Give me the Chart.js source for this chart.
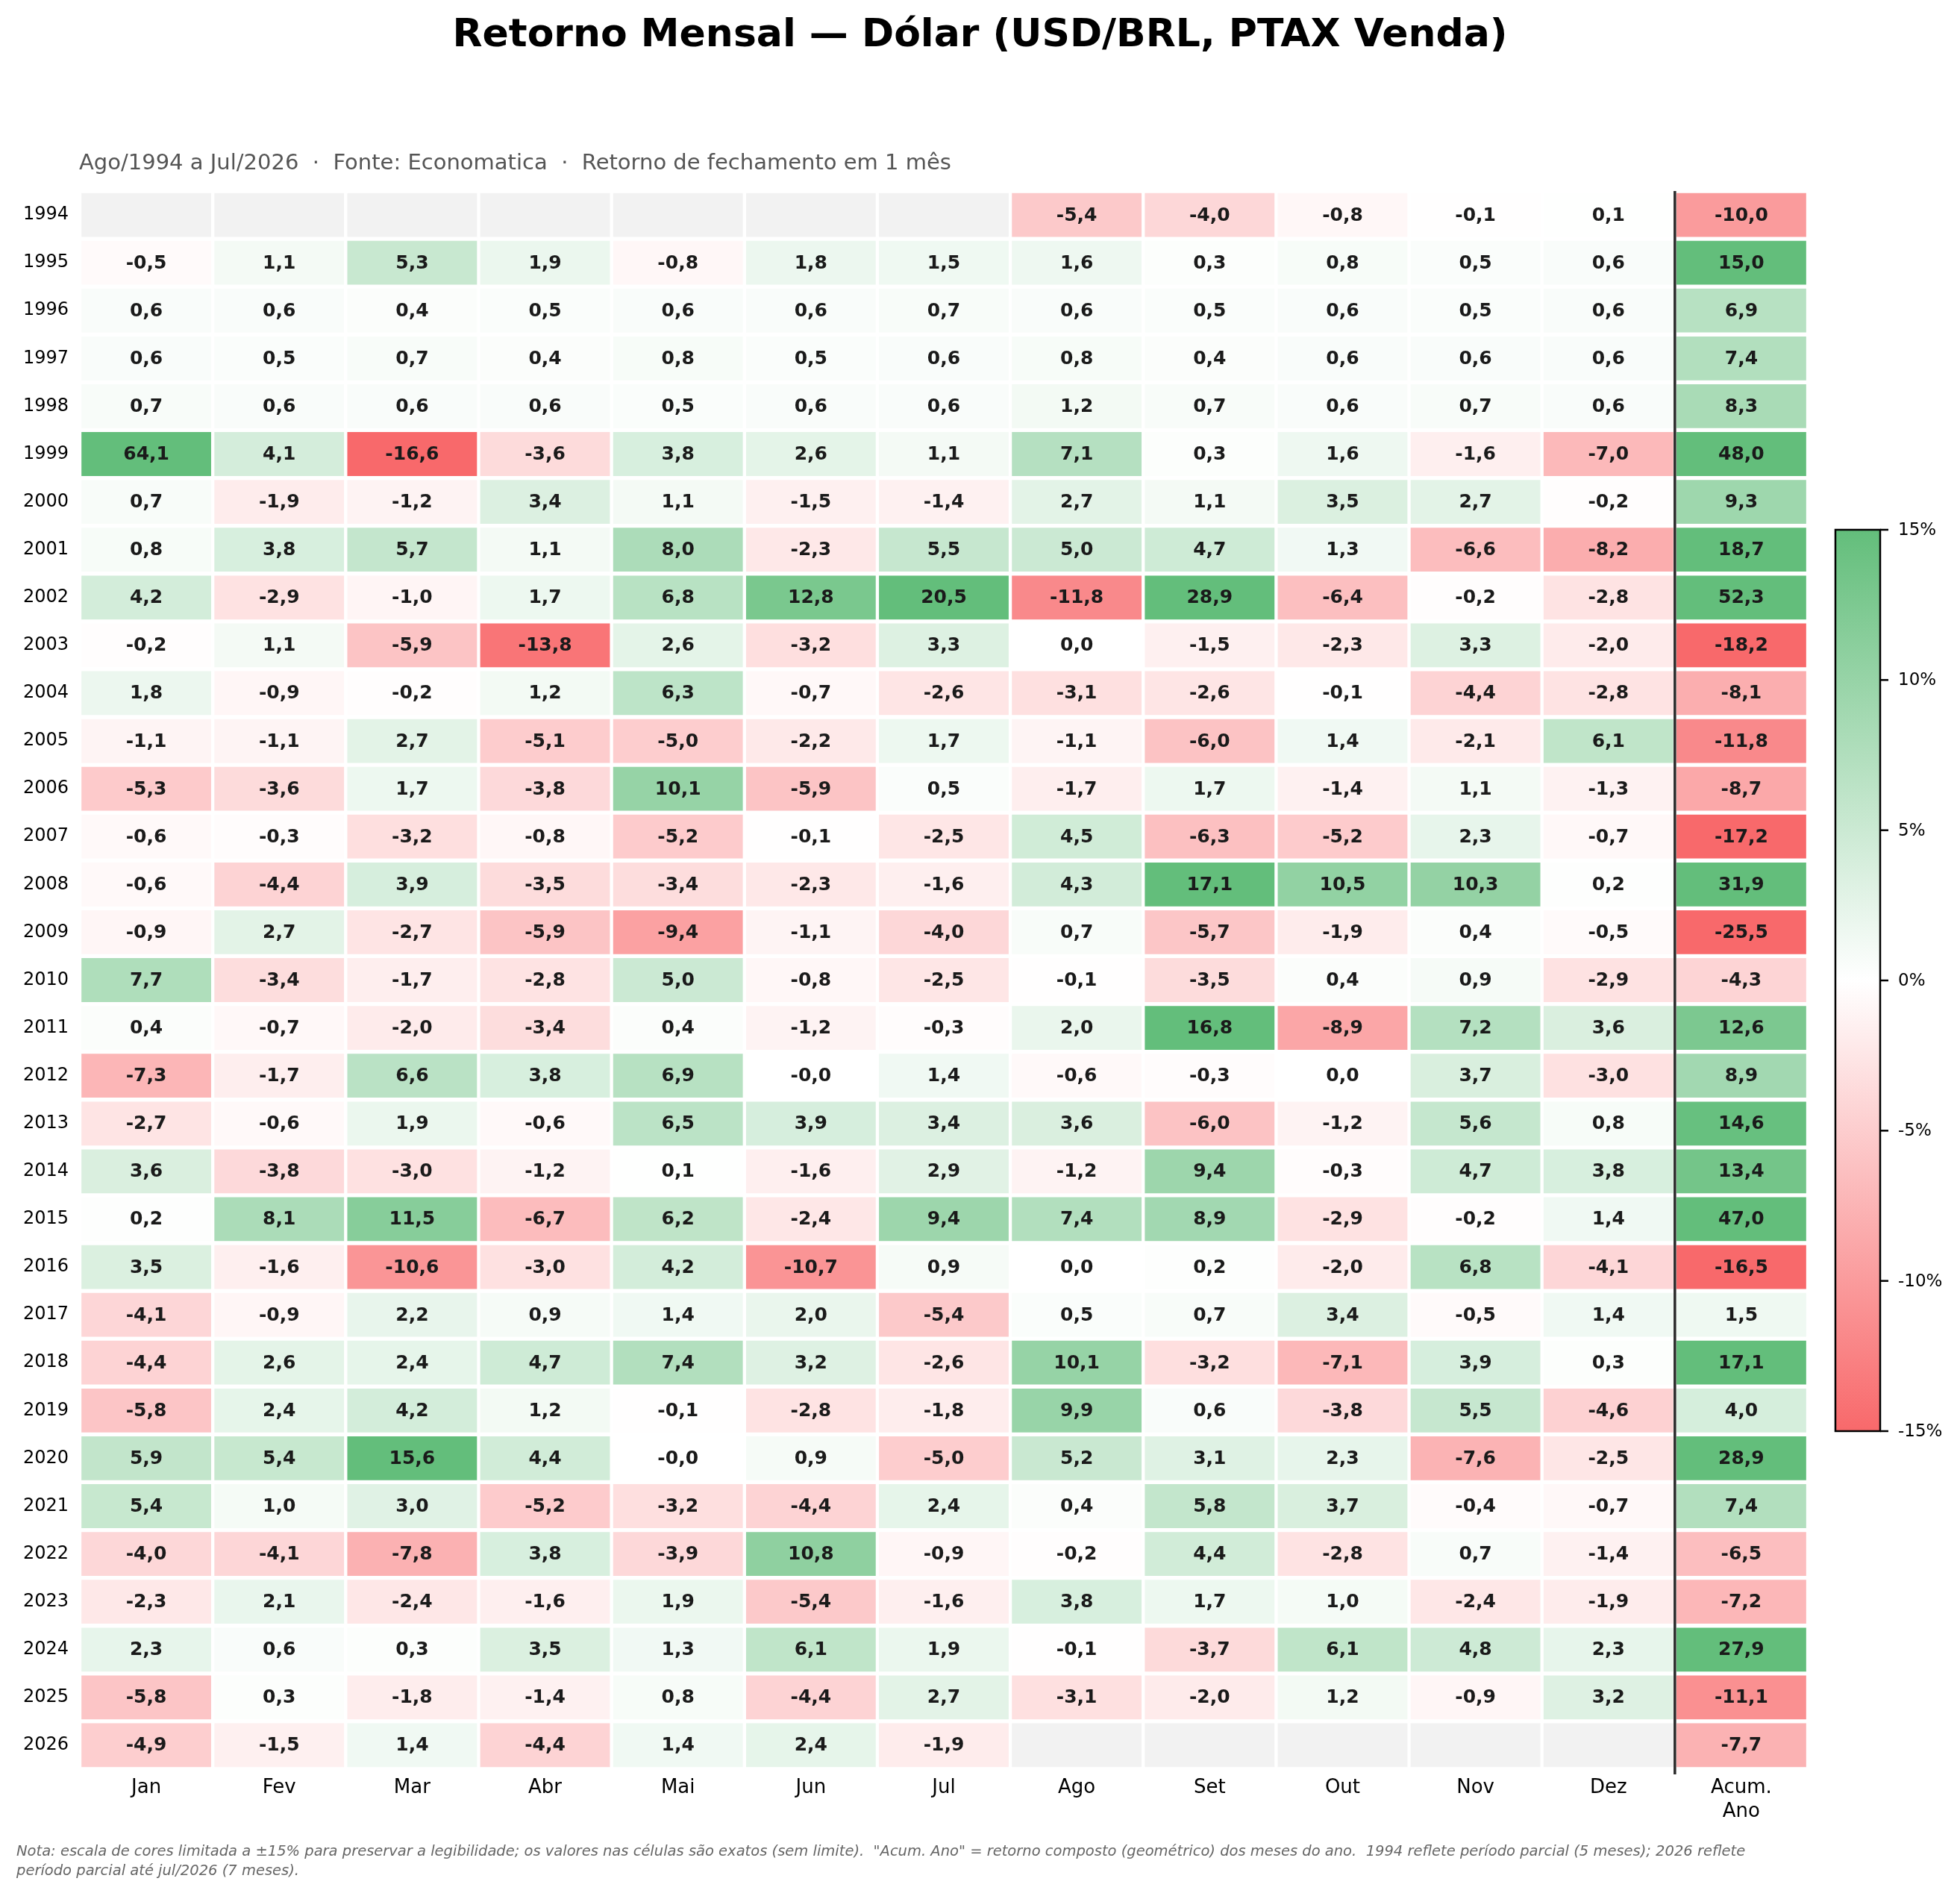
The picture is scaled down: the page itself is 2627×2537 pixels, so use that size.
<!DOCTYPE html>
<html>
<head>
<meta charset="utf-8">
<title>Retorno Mensal — Dólar (USD/BRL, PTAX Venda)</title>
<script src="https://cdn.jsdelivr.net/npm/chart.js@4.4.1/dist/chart.umd.min.js"></script>
<style>
  html, body { margin: 0; padding: 0; background: #fff; }
  #wrap { width: 2627px; height: 2537px; }
</style>
</head>
<body>
<div id="wrap"><canvas id="heat" width="2627" height="2537"></canvas></div>
<script>
// Colunas e linhas do mapa de calor
const colLabels = ['Jan', 'Fev', 'Mar', 'Abr', 'Mai', 'Jun', 'Jul', 'Ago', 'Set', 'Out', 'Nov', 'Dez', 'Acum. Ano'];
const years = [1994, 1995, 1996, 1997, 1998, 1999, 2000, 2001, 2002, 2003, 2004, 2005, 2006, 2007, 2008, 2009, 2010,
               2011, 2012, 2013, 2014, 2015, 2016, 2017, 2018, 2019, 2020, 2021, 2022, 2023, 2024, 2025, 2026];

// Retorno mensal (%) por ano, Jan..Dez (null = sem dado)
const monthly = [
  [null, null, null, null, null, null, null, -5.4, -4.0, -0.8, -0.1, 0.1],   // 1994
  [-0.5, 1.1, 5.3, 1.9, -0.8, 1.8, 1.5, 1.6, 0.3, 0.8, 0.5, 0.6],            // 1995
  [0.6, 0.6, 0.4, 0.5, 0.6, 0.6, 0.7, 0.6, 0.5, 0.6, 0.5, 0.6],              // 1996
  [0.6, 0.5, 0.7, 0.4, 0.8, 0.5, 0.6, 0.8, 0.4, 0.6, 0.6, 0.6],              // 1997
  [0.7, 0.6, 0.6, 0.6, 0.5, 0.6, 0.6, 1.2, 0.7, 0.6, 0.7, 0.6],              // 1998
  [64.1, 4.1, -16.6, -3.6, 3.8, 2.6, 1.1, 7.1, 0.3, 1.6, -1.6, -7.0],        // 1999
  [0.7, -1.9, -1.2, 3.4, 1.1, -1.5, -1.4, 2.7, 1.1, 3.5, 2.7, -0.2],         // 2000
  [0.8, 3.8, 5.7, 1.1, 8.0, -2.3, 5.5, 5.0, 4.7, 1.3, -6.6, -8.2],           // 2001
  [4.2, -2.9, -1.0, 1.7, 6.8, 12.8, 20.5, -11.8, 28.9, -6.4, -0.2, -2.8],    // 2002
  [-0.2, 1.1, -5.9, -13.8, 2.6, -3.2, 3.3, 0.0, -1.5, -2.3, 3.3, -2.0],      // 2003
  [1.8, -0.9, -0.2, 1.2, 6.3, -0.7, -2.6, -3.1, -2.6, -0.1, -4.4, -2.8],     // 2004
  [-1.1, -1.1, 2.7, -5.1, -5.0, -2.2, 1.7, -1.1, -6.0, 1.4, -2.1, 6.1],      // 2005
  [-5.3, -3.6, 1.7, -3.8, 10.1, -5.9, 0.5, -1.7, 1.7, -1.4, 1.1, -1.3],      // 2006
  [-0.6, -0.3, -3.2, -0.8, -5.2, -0.1, -2.5, 4.5, -6.3, -5.2, 2.3, -0.7],    // 2007
  [-0.6, -4.4, 3.9, -3.5, -3.4, -2.3, -1.6, 4.3, 17.1, 10.5, 10.3, 0.2],     // 2008
  [-0.9, 2.7, -2.7, -5.9, -9.4, -1.1, -4.0, 0.7, -5.7, -1.9, 0.4, -0.5],     // 2009
  [7.7, -3.4, -1.7, -2.8, 5.0, -0.8, -2.5, -0.1, -3.5, 0.4, 0.9, -2.9],      // 2010
  [0.4, -0.7, -2.0, -3.4, 0.4, -1.2, -0.3, 2.0, 16.8, -8.9, 7.2, 3.6],       // 2011
  [-7.3, -1.7, 6.6, 3.8, 6.9, -0.02, 1.4, -0.6, -0.3, 0.0, 3.7, -3.0],       // 2012
  [-2.7, -0.6, 1.9, -0.6, 6.5, 3.9, 3.4, 3.6, -6.0, -1.2, 5.6, 0.8],         // 2013
  [3.6, -3.8, -3.0, -1.2, 0.1, -1.6, 2.9, -1.2, 9.4, -0.3, 4.7, 3.8],        // 2014
  [0.2, 8.1, 11.5, -6.7, 6.2, -2.4, 9.4, 7.4, 8.9, -2.9, -0.2, 1.4],         // 2015
  [3.5, -1.6, -10.6, -3.0, 4.2, -10.7, 0.9, 0.0, 0.2, -2.0, 6.8, -4.1],      // 2016
  [-4.1, -0.9, 2.2, 0.9, 1.4, 2.0, -5.4, 0.5, 0.7, 3.4, -0.5, 1.4],          // 2017
  [-4.4, 2.6, 2.4, 4.7, 7.4, 3.2, -2.6, 10.1, -3.2, -7.1, 3.9, 0.3],         // 2018
  [-5.8, 2.4, 4.2, 1.2, -0.1, -2.8, -1.8, 9.9, 0.6, -3.8, 5.5, -4.6],        // 2019
  [5.9, 5.4, 15.6, 4.4, -0.02, 0.9, -5.0, 5.2, 3.1, 2.3, -7.6, -2.5],        // 2020
  [5.4, 1.0, 3.0, -5.2, -3.2, -4.4, 2.4, 0.4, 5.8, 3.7, -0.4, -0.7],         // 2021
  [-4.0, -4.1, -7.8, 3.8, -3.9, 10.8, -0.9, -0.2, 4.4, -2.8, 0.7, -1.4],     // 2022
  [-2.3, 2.1, -2.4, -1.6, 1.9, -5.4, -1.6, 3.8, 1.7, 1.0, -2.4, -1.9],       // 2023
  [2.3, 0.6, 0.3, 3.5, 1.3, 6.1, 1.9, -0.1, -3.7, 6.1, 4.8, 2.3],            // 2024
  [-5.8, 0.3, -1.8, -1.4, 0.8, -4.4, 2.7, -3.1, -2.0, 1.2, -0.9, 3.2],       // 2025
  [-4.9, -1.5, 1.4, -4.4, 1.4, 2.4, -1.9, null, null, null, null, null]      // 2026
];

// Retorno acumulado no ano (%)
const acumAno = [-10.0, 15.0, 6.9, 7.4, 8.3, 48.0, 9.3, 18.7, 52.3, -18.2, -8.1, -11.8, -8.7, -17.2, 31.9, -25.5, -4.3,
                 12.6, 8.9, 14.6, 13.4, 47.0, -16.5, 1.5, 17.1, 4.0, 28.9, 7.4, -6.5, -7.2, 27.9, -11.1, -7.7];

const cbarTicks = [15, 10, 5, 0, -5, -10, -15];

const FONT = "'DejaVu Sans', sans-serif";
const GREEN = [99, 190, 123];
const RED = [248, 105, 107];
const LIMIT = 15;

function cellColor(v) {
  if (v === null || v === undefined) return '#f2f2f2';
  const t = Math.max(-1, Math.min(1, v / LIMIT));
  const end = t >= 0 ? GREEN : RED;
  const a = Math.abs(t);
  const c = end.map(e => Math.round(255 + (e - 255) * a));
  return 'rgb(' + c.join(',') + ')';
}

function fmt(v) {
  return v.toFixed(1).replace('.', ',');
}

// uma barra flutuante por célula
const cells = [];
years.forEach((yr, i) => {
  colLabels.forEach((lab, j) => {
    const v = j < 12 ? monthly[i][j] : acumAno[i];
    cells.push({ x: lab, y: [yr - 0.5, yr + 0.5], v: v });
  });
});

// textos, linha divisória, barra de cores
const decor = {
  id: 'decor',
  afterDatasetsDraw(chart) {
    const ctx = chart.ctx;
    const area = chart.chartArea;
    const meta = chart.getDatasetMeta(0);

    ctx.save();
    ctx.font = 'bold 25px ' + FONT;
    ctx.fillStyle = '#1a1a1a';
    ctx.textAlign = 'center';
    ctx.textBaseline = 'middle';
    meta.data.forEach((el, k) => {
      const v = cells[k].v;
      if (v === null) return;
      ctx.fillText(fmt(v), el.x, (el.y + el.base) / 2 + 1);
    });

    // linha entre Dez e Acum. Ano
    const xs = chart.scales.x;
    const xLine = (xs.getPixelForValue(11) + xs.getPixelForValue(12)) / 2;
    ctx.strokeStyle = '#2b2b2b';
    ctx.lineWidth = 3.5;
    ctx.beginPath();
    ctx.moveTo(xLine, area.top);
    ctx.lineTo(xLine, area.bottom + 7);
    ctx.stroke();
    ctx.restore();
  },
  afterDraw(chart) {
    const ctx = chart.ctx;
    const area = chart.chartArea;
    ctx.save();

    // título
    ctx.fillStyle = '#000';
    ctx.textAlign = 'center';
    ctx.textBaseline = 'alphabetic';
    ctx.font = 'bold 52px ' + FONT;
    ctx.fillText('Retorno Mensal — Dólar (USD/BRL, PTAX Venda)', chart.width / 2, 62);

    // subtítulo
    ctx.textAlign = 'left';
    ctx.fillStyle = '#555555';
    ctx.font = '29px ' + FONT;
    ctx.fillText('Ago/1994 a Jul/2026  ·  Fonte: Economatica  ·  Retorno de fechamento em 1 mês', 106, 227);

    // barra de cores
    const cbX = area.right + 37, cbW = 60;
    const cbTop = area.top + 454, cbBot = area.top + 1662;
    const grad = ctx.createLinearGradient(0, cbTop, 0, cbBot);
    grad.addColorStop(0, cellColor(LIMIT));
    grad.addColorStop(0.5, cellColor(0));
    grad.addColorStop(1, cellColor(-LIMIT));
    ctx.fillStyle = grad;
    ctx.fillRect(cbX, cbTop, cbW, cbBot - cbTop);
    ctx.strokeStyle = '#000';
    ctx.lineWidth = 2.5;
    ctx.strokeRect(cbX, cbTop, cbW, cbBot - cbTop);

    ctx.fillStyle = '#000';
    ctx.font = '23px ' + FONT;
    ctx.textBaseline = 'middle';
    cbarTicks.forEach(t => {
      const y = cbTop + (LIMIT - t) / (2 * LIMIT) * (cbBot - cbTop);
      ctx.beginPath();
      ctx.moveTo(cbX + cbW, y);
      ctx.lineTo(cbX + cbW + 11, y);
      ctx.stroke();
      ctx.fillText(t + '%', cbX + cbW + 24, y + 1);
    });

    // nota
    ctx.fillStyle = '#666666';
    ctx.font = 'italic 19.5px ' + FONT;
    ctx.textBaseline = 'alphabetic';
    ctx.fillText('Nota: escala de cores limitada a ±15% para preservar a legibilidade; os valores nas células são exatos (sem limite).  "Acum. Ano" = retorno composto (geométrico) dos meses do ano.  1994 reflete período parcial (5 meses); 2026 reflete', 22, 2487);
    ctx.fillText('período parcial até jul/2026 (7 meses).', 22, 2513);
    ctx.restore();
  }
};

Chart.defaults.font.family = FONT;

new Chart(document.getElementById('heat'), {
  type: 'bar',
  data: {
    labels: colLabels,
    datasets: [{
      data: cells,
      backgroundColor: c => cellColor(c.raw ? c.raw.v : null),
      borderColor: '#ffffff',
      borderWidth: { left: 2.5, right: 2.5, top: 3, bottom: 3 },
      borderSkipped: false,
      barPercentage: 1,
      categoryPercentage: 1
    }]
  },
  options: {
    responsive: false,
    devicePixelRatio: 1,
    animation: false,
    layout: { padding: { left: 17, right: 204, top: 256, bottom: 66 } },
    plugins: {
      legend: { display: false },
      tooltip: { enabled: false }
    },
    scales: {
      x: {
        type: 'category',
        grid: { display: false, drawTicks: false },
        border: { display: false },
        ticks: {
          color: '#000',
          font: { size: 26 },
          padding: 10,
          maxRotation: 0,
          autoSkip: false,
          callback: function (value) {
            const lab = this.getLabelForValue(value);
            return lab === 'Acum. Ano' ? ['Acum.', 'Ano'] : lab;
          }
        },
        afterFit: axis => { axis.height = 100; }
      },
      y: {
        type: 'linear',
        reverse: true,
        min: 1993.5,
        max: 2026.5,
        grid: { display: false, drawTicks: false },
        border: { display: false },
        afterBuildTicks: axis => { axis.ticks = years.map(v => ({ value: v })); },
        ticks: {
          color: '#000',
          font: { size: 24 },
          padding: 15,
          autoSkip: false,
          callback: v => String(v)
        },
        afterFit: axis => { axis.width = 90; }
      }
    }
  },
  plugins: [decor]
});
</script>
</body>
</html>
